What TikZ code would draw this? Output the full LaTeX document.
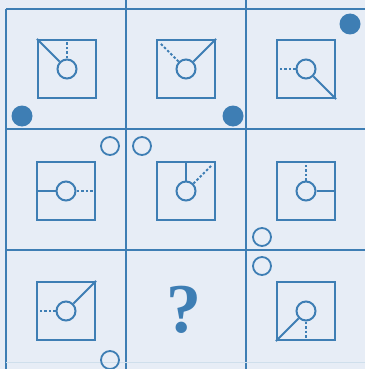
\documentclass[tikz,border=0pt]{standalone}
\usepackage{fontspec}
\newfontfamily\qfont{Liberation Serif}
\definecolor{inkblue}{RGB}{62,126,180}
\definecolor{paper}{RGB}{231,237,246}
\tikzset{
  frame/.style={draw=inkblue,line width=2.1pt,minimum size=58pt,inner sep=0pt},
  ring/.style={circle,draw=inkblue,line width=2pt,minimum size=19pt,inner sep=0pt},
  stem/.style={inkblue,line width=2pt},
  hint/.style={inkblue,line width=2pt,dash pattern=on 2.5pt off 2pt},
  bead/.style={circle,fill=inkblue,minimum size=21pt,inner sep=0pt},
  hole/.style={circle,draw=inkblue,line width=1.8pt,minimum size=18pt,inner sep=0pt},
  gridline/.style={inkblue,line width=2.2pt}
}
\begin{document}
\begin{tikzpicture}[x=1pt,y=-1pt]
  \fill[paper] (0,0) rectangle (365,369);
  \useasboundingbox (0,0) rectangle (365,369);
  % grid
  \draw[gridline] (6,9) -- (6,369);
  \foreach \x in {126,246}{
    \draw[gridline] (\x,0) -- (\x,369);}
  \foreach \y in {9,129,250}{
    \draw[gridline] (6,\y) -- (365,\y);}
  \draw[inkblue!25,line width=1pt] (6,362) -- (365,362);
  % frames and rings
  \foreach \i/\x/\y in {1/67/69,2/186/69,3/306/69,4/66/191,5/186/191,6/306/191,7/66/311,9/306/311}{
    \node[frame] (s\i) at (\x,\y) {};
    \node[ring] (r\i) at (\x,\y) {};}
  % row 1
  \draw[stem] (r1) -- (s1.north west);
  \draw[hint] (r1) -- (s1.north);
  \draw[stem] (r2) -- (s2.north east);
  \draw[hint,shorten >=7pt] (r2) -- (s2.north west);
  \draw[stem] (r3) -- (s3.south east);
  \draw[hint] (r3) -- (s3.west);
  % row 2
  \draw[stem] (r4) -- (s4.west);
  \draw[hint] (r4) -- (s4.east);
  \draw[stem] (r5) -- (s5.north);
  \draw[hint,shorten >=7pt] (r5) -- (s5.north east);
  \draw[stem] (r6) -- (s6.east);
  \draw[hint] (r6) -- (s6.north);
  % row 3
  \draw[stem] (r7) -- (s7.north east);
  \draw[hint] (r7) -- (s7.west);
  \node[text=inkblue,font=\qfont\fontsize{70}{70}\selectfont\bfseries] (q) at (184,310) {?};
  \draw[stem] (r9) -- (s9.south west);
  \draw[hint] (r9) -- (s9.south);
  % dots
  \foreach \x/\y in {22/116,233/116,350/24}{
    \node[bead] at (\x,\y) {};}
  \foreach \x/\y in {110/146,142/146,262/237,110/360,262/266}{
    \node[hole] at (\x,\y) {};}
\end{tikzpicture}
\end{document}
